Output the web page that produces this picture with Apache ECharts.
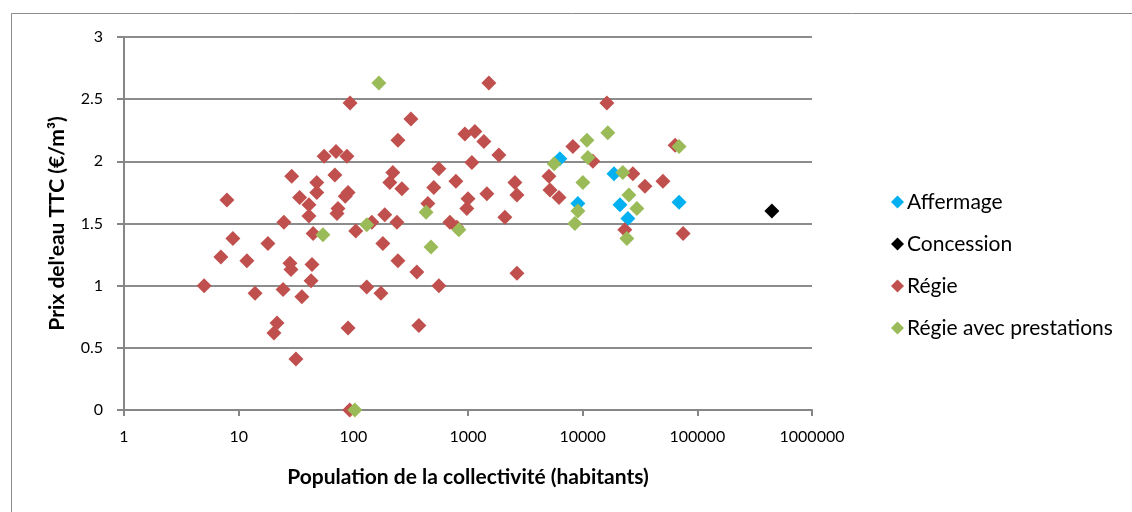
<!DOCTYPE html>
<html>
<head>
<meta charset="utf-8">
<script src="https://cdn.jsdelivr.net/npm/echarts@6/dist/echarts.min.js"></script>
<style>
html,body{margin:0;padding:0;background:#fff;}
#c{width:1132px;height:512px;}
</style>
</head>
<body>
<div id="c"></div>
<script>
const seriesNames = ['Affermage', 'Concession', 'Régie', 'Régie avec prestations'];
const seriesColors = ['#00B0F0', '#000000', '#C0504D', '#9BBB59'];
const xTickLabels = ['1', '10', '100', '1000', '10000', '100000', '1000000'];
const yTickLabels = ['0', '0.5', '1', '1.5', '2', '2.5', '3'];

const affermage = [
  [6330, 2.02], [9080, 1.66], [18750, 1.90], [21150, 1.65], [24800, 1.54], [69300, 1.67]
];
const concession = [
  [446700, 1.60]
];
const regie = [
  [5, 1.00], [7.9, 1.69], [8.9, 1.38], [7.0, 1.23], [11.8, 1.20], [13.9, 0.94], [18, 1.34],
  [24.8, 1.51], [24.4, 0.97], [29, 1.88], [28, 1.18], [28.6, 1.13], [21.6, 0.70], [20.3, 0.62],
  [31.6, 0.41], [34, 1.71], [41, 1.65], [41, 1.56], [48, 1.83], [48, 1.75], [35.6, 0.91],
  [43.6, 1.17], [42.8, 1.04], [44.6, 1.42], [55.6, 2.04], [70.6, 2.08], [88, 2.04], [69, 1.89],
  [73.5, 1.62], [72, 1.58], [90, 1.75], [85, 1.72], [93.6, 2.47], [90, 0.66], [93, 0],
  [105, 1.44], [145, 1.51], [131, 0.99], [188, 1.57], [181, 1.34], [174, 0.94], [221, 1.91],
  [208, 1.83], [265, 1.78], [240, 1.51], [245, 2.17], [245, 1.20], [318, 2.34], [358, 1.11],
  [373, 0.68], [447, 1.66], [503, 1.79], [557, 1.94], [557, 1.00], [695, 1.51], [800, 1.47],
  [784, 1.84], [939, 2.22], [1148, 2.24], [977, 1.62], [1000, 1.70], [1081, 1.99], [1376, 2.16],
  [1521, 2.63], [1461, 1.74], [1858, 2.05], [2097, 1.55], [2565, 1.83], [2673, 1.73], [2673, 1.10],
  [5082, 1.88], [5187, 1.77], [6215, 1.71], [8220, 2.12], [12270, 2.00], [16260, 2.47],
  [27400, 1.90], [34900, 1.80], [50100, 1.84], [23300, 1.45], [75200, 1.42], [64000, 2.13]
];
const regiePrest = [
  [167, 2.63], [54.3, 1.41], [131, 1.49], [431, 1.59], [476, 1.31], [833, 1.45], [103, 0],
  [5640, 1.98], [16570, 2.23], [10900, 2.17], [11100, 2.03], [10040, 1.83], [9080, 1.60],
  [8550, 1.50], [22400, 1.91], [25300, 1.73], [29700, 1.62], [24300, 1.38], [69300, 2.12]
];

const allData = [affermage, concession, regie, regiePrest];
const FONT = 'Lato, "Open Sans", sans-serif';

const chart = echarts.init(document.getElementById('c'), null, {renderer: 'canvas'});
chart.setOption({
  animation: false,
  backgroundColor: '#ffffff',
  graphic: [{
    type: 'rect', left: 9, top: 11, z: -10,
    shape: {width: 1130, height: 510},
    style: {fill: 'none', stroke: '#8c8c8c', lineWidth: 1}
  }],
  grid: {left: 124, top: 37, width: 688, height: 373, containLabel: false},
  legend: {
    orient: 'vertical', left: 886, top: 185,
    icon: 'diamond', itemWidth: 13, itemHeight: 13, itemGap: 18,
    textStyle: {fontFamily: FONT, fontSize: 21, lineHeight: 24, color: '#000', padding: [0, 0, 0, -2]},
    data: seriesNames
  },
  xAxis: {
    type: 'log', logBase: 10, min: 1, max: 1000000,
    name: 'Population de la collectivité (habitants)',
    nameLocation: 'middle', nameGap: 57,
    nameTextStyle: {fontFamily: FONT, fontSize: 21, fontWeight: 'bold', color: '#000'},
    axisLine: {show: true, lineStyle: {color: '#868686', width: 2}},
    axisTick: {show: true, length: 6, lineStyle: {color: '#868686', width: 2}},
    axisLabel: {
      fontFamily: FONT, fontSize: 16, color: '#000', margin: 19,
      formatter: function (v) {
        const i = Math.round(Math.log10(v));
        return xTickLabels[i] !== undefined ? xTickLabels[i] : '';
      }
    },
    splitLine: {show: false},
    minorTick: {show: false}
  },
  yAxis: {
    type: 'value', min: 0, max: 3, interval: 0.5,
    name: "Prix del'eau TTC (€/m³)",
    nameLocation: 'middle', nameGap: 56, nameRotate: 90,
    nameTextStyle: {fontFamily: FONT, fontSize: 21, fontWeight: 'bold', color: '#000'},
    axisLine: {show: true, lineStyle: {color: '#868686', width: 2}},
    axisTick: {show: true, length: 7, lineStyle: {color: '#868686', width: 2}},
    axisLabel: {
      fontFamily: FONT, fontSize: 16, color: '#000', margin: 21,
      formatter: function (v) {
        const i = Math.round(v / 0.5);
        return yTickLabels[i] !== undefined ? yTickLabels[i] : '';
      }
    },
    splitLine: {show: true, lineStyle: {color: '#8c8c8c', width: 2}}
  },
  series: seriesNames.map(function (n, i) {
    return {
      name: n, type: 'scatter', symbol: 'diamond', symbolSize: 15,
      itemStyle: {color: seriesColors[i], opacity: 1},
      data: allData[i]
    };
  })
});
</script>
</body>
</html>
